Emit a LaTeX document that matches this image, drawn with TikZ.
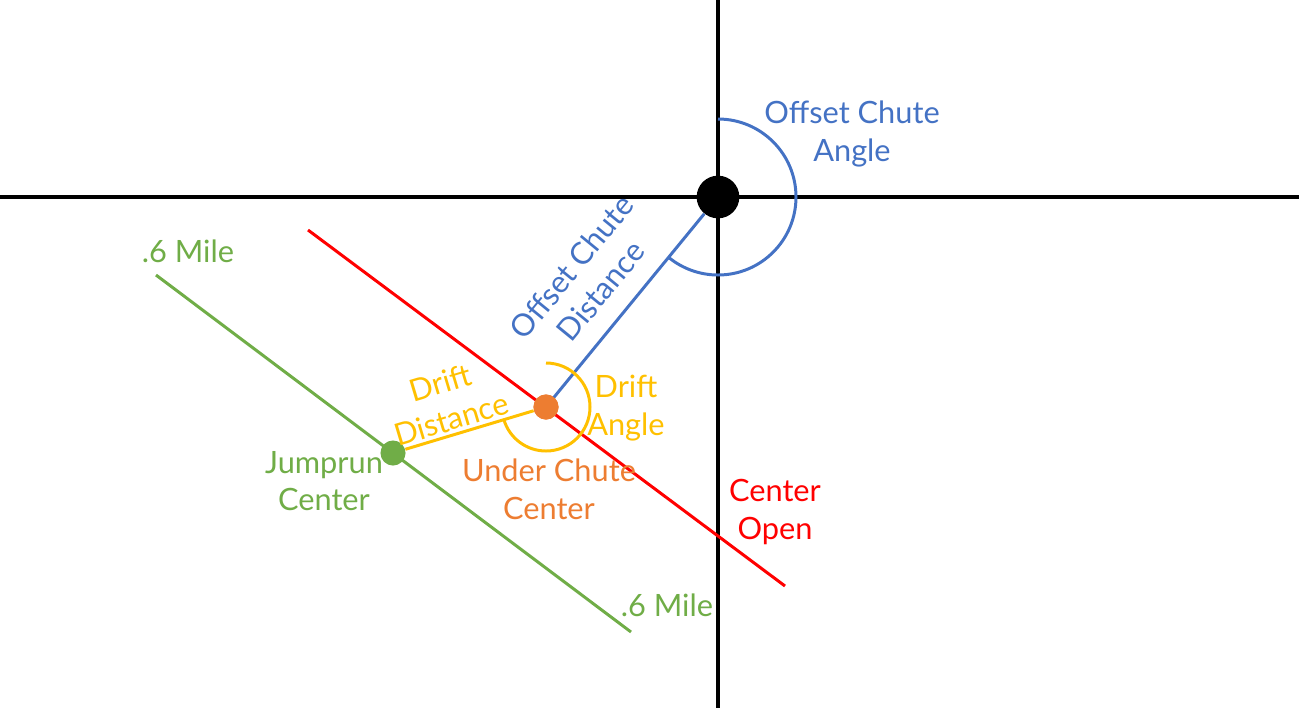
\documentclass[tikz,border=0pt]{standalone}
\usepackage{fontspec}
\setmainfont{Lato}
\usetikzlibrary{calc}

\definecolor{chblue}{HTML}{4472C4}
\definecolor{chorange}{HTML}{ED7D31}
\definecolor{chyellow}{HTML}{FFC000}
\definecolor{chgreen}{HTML}{70AD47}
\definecolor{chred}{HTML}{FF0000}

\begin{document}
\begin{tikzpicture}[x=0.02cm,y=0.02cm]

\tikzset{
    dot/.style={circle,inner sep=0pt,minimum size=#1,fill},
    lbl/.style={align=center,font=\fontsize{17.5}{21.5}\selectfont,inner sep=0pt},
    ln/.style={line width=1.7pt}}

\useasboundingbox (0,0) rectangle (1299,-708);

% axes
\coordinate (W) at (0,-197);
\coordinate (E) at (1299,-197);
\coordinate (N) at (718,0);
\coordinate (S) at (718,-708);
\draw[line width=1.8pt] (W) -- (E);
\draw[line width=1.8pt] (N) -- (S);

% lines
\coordinate (R1) at (308,-230);
\coordinate (R2) at (785,-586);
\coordinate (G1) at (156,-275);
\coordinate (G2) at (631,-632);
\draw[ln, chred] (R1) -- (R2);
\draw[ln, chgreen] (G1) -- (G2);

\node[dot=34pt/1.4, fill=black] (O) at (718,-197) {};
\node[dot=20pt/1.4, fill=chorange] (U) at (546,-407) {};
\node[dot=20pt/1.4, fill=chgreen] (J) at (393,-453) {};

\draw[ln, chblue] (U.center) -- (O);
\draw[ln, chyellow] (J) -- (U);
\node[dot=20pt/1.4, fill=chorange] at (U) {};

% angles
\draw[ln, chblue] (O.center) ++(90:78) arc[start angle=90, end angle=-129.3, radius=78];
\draw[ln, chyellow] (U.center) ++(90:44) arc[start angle=90, end angle=-163.3, radius=44];

% labels
\node[lbl, chblue] (ocaL) at (852,-134) {Offset Chute\\Angle};
\node[lbl, chblue, rotate=50.7] (ocdL) at (586,-279) {Offset Chute\\Distance};
\node[lbl, chyellow] (daL) at (626,-408) {Drift\\Angle};
\node[lbl, chyellow, rotate=16.7] (ddL) at (446,-401) {Drift\\Distance};
\node[lbl, chorange] (ucL) at (549,-489) {Under Chute\\Center};
\node[lbl, chgreen] (jrL) at (324,-481) {Jumprun\\Center};
\node[lbl, chred] (coL) at (775,-512) {Center\\Open};
\node[lbl, chgreen] (m1L) at (188,-251) {.6 Mile};
\node[lbl, chgreen] (m2L) at (667,-605) {.6 Mile};

\end{tikzpicture}
\end{document}
